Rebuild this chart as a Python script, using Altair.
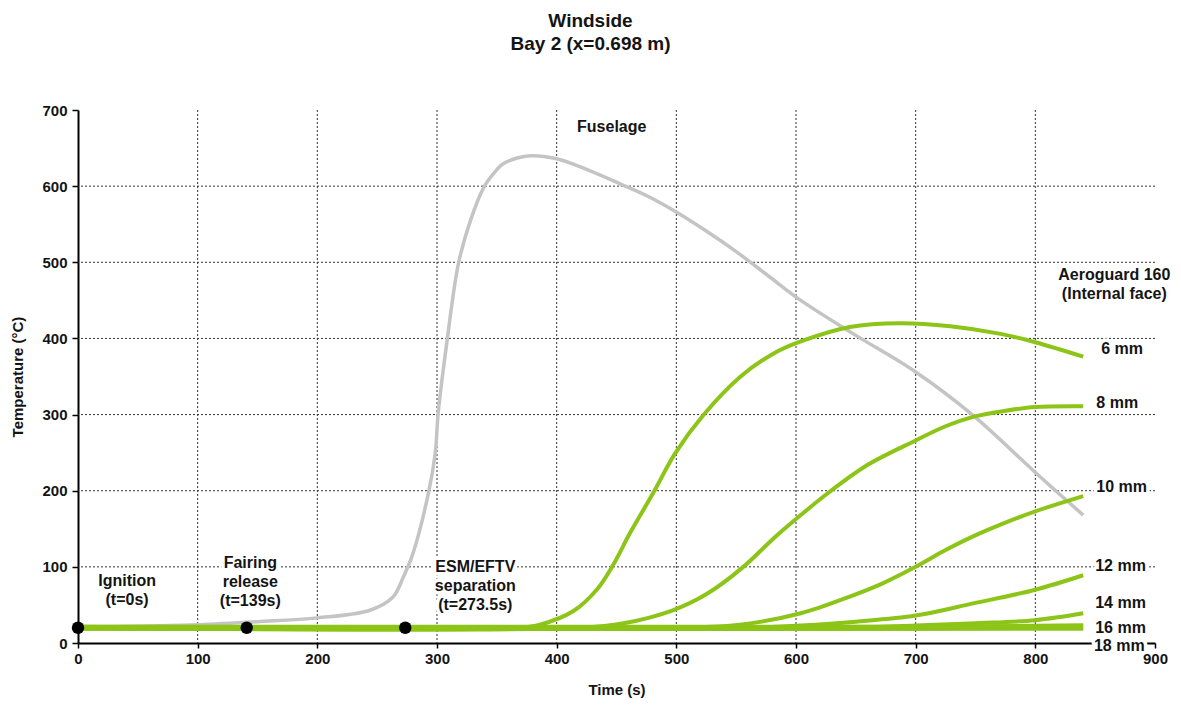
import altair as alt
import pandas as pd

# ---- data ----
fus_t = [0, 50, 100, 150, 200, 244, 263, 272, 280, 293, 298.5, 301, 308.5, 318, 328, 339, 347, 355, 367, 378, 400, 425, 453, 477, 501, 525, 550, 577, 604, 650, 700, 748, 800, 840]
fus_T = [20, 22, 24, 28, 33, 43, 60, 87, 118, 198, 249, 302, 398, 499, 555, 598, 616, 629, 637, 640, 636, 622, 603, 586, 565, 541, 514, 482, 450, 404, 356, 299, 224, 168]

mm6_t = [0, 370, 386, 414, 434, 447, 461.5, 481, 499, 523, 553, 581, 604, 645, 687, 729, 771, 800, 840]
mm6_T = [20, 20, 24, 42, 71, 102, 145, 198, 249, 300, 349, 380, 396, 415, 420, 416, 406, 395, 376]

mm8_t = [0, 420, 456, 497, 526, 556, 581, 604, 626, 660, 700, 724, 748, 775, 800, 840]
mm8_T = [20, 20, 26, 43, 65, 100, 137, 168, 196, 234, 266, 284, 297, 305, 310, 311]

mm10_t = [0, 500, 553, 604, 645, 672, 700, 725, 748, 775, 800, 840]
mm10_T = [20, 20, 24, 39, 61, 78, 100, 122, 140, 158, 173, 193]

mm12_t = [0, 560, 604, 650, 700, 748, 800, 840]
mm12_T = [20, 20, 23, 28, 36, 52, 70, 89]

mm14_t = [0, 640, 700, 750, 800, 840]
mm14_T = [20, 20, 23, 26, 30, 39]

mm16_t = [0, 700, 840]
mm16_T = [20, 20, 22]

mm18_t = [0, 840]
mm18_T = [20, 20]

event_t = [0, 141, 273.5]
event_T = [20, 20, 20]

x_ticks = [0, 100, 200, 300, 400, 500, 600, 700, 800, 900]
y_ticks = [0, 100, 200, 300, 400, 500, 600, 700]
x_grid = [100, 200, 300, 400, 500, 600, 700, 800]
y_grid = [100, 200, 300, 400, 500, 600]

mm_labels = ["6 mm", "8 mm", "10 mm", "12 mm", "14 mm", "16 mm", "18 mm"]
mm_label_t = [855, 851, 851, 850, 850, 850, 849]
mm_label_T = [386, 315, 205, 101, 52, 20, -4]

# multi-line notes: anchor = first line
notes = ["Ignition\n(t=0s)", "Fairing\nrelease\n(t=139s)", "ESM/EFTV\nseparation\n(t=273.5s)",
         "Fuselage", "Aeroguard 160\n(Internal face)"]
note_t = [41, 144, 332, 446, 866]
note_T = [81.5, 105, 100, 678, 483]

# ---- build tables ----
green_series = [("6 mm", mm6_t, mm6_T, 4), ("8 mm", mm8_t, mm8_T, 4), ("10 mm", mm10_t, mm10_T, 4),
                ("12 mm", mm12_t, mm12_T, 4), ("14 mm", mm14_t, mm14_T, 4), ("16 mm", mm16_t, mm16_T, 6),
                ("18 mm", mm18_t, mm18_T, 6)]
rows = []
for name, ts, Ts, w in green_series:
    for t, T in zip(ts, Ts):
        rows.append({"series": name, "t": t, "T": T, "w": w})
green_df = pd.DataFrame(rows)
fus_df = pd.DataFrame({"t": fus_t, "T": fus_T})
ev_df = pd.DataFrame({"t": event_t, "T": event_T})
mm_df = pd.DataFrame({"label": mm_labels, "t": mm_label_t, "T": mm_label_T})
note_df = pd.DataFrame({"label": notes, "t": note_t, "T": note_T})
xg_df = pd.DataFrame({"v": x_grid})
yg_df = pd.DataFrame({"v": y_grid})

FONT = "Liberation Sans"
GREEN = "#8cc417"
GRAY = "#c4c4c4"
TXT = "#141414"

xs = alt.Scale(domain=[0, 900], nice=False, zero=False)
ys = alt.Scale(domain=[0, 700], nice=False, zero=False)

x_axis = alt.Axis(values=x_ticks, title="Time (s)", grid=False, format="d", labelFlush=False,
                  labelFontSize=15, labelFontWeight="bold", labelFont=FONT, labelColor=TXT,
                  titleFontSize=15, titleFontWeight="bold", titleFont=FONT, titleColor=TXT,
                  titlePadding=16, labelPadding=3, tickSize=5, tickColor="black",
                  domainColor="black", domainWidth=2, tickWidth=1.5)
y_axis = alt.Axis(values=y_ticks, title="Temperature (°C)", grid=False, format="d", labelFlush=False,
                  labelFontSize=15, labelFontWeight="bold", labelFont=FONT, labelColor=TXT,
                  titleFontSize=15, titleFontWeight="bold", titleFont=FONT, titleColor=TXT,
                  titlePadding=16, labelPadding=5, tickSize=6, tickColor="black",
                  domainColor="black", domainWidth=2, tickWidth=1.5)

vgrid = alt.Chart(xg_df).mark_rule(color="#333", strokeDash=[2, 2], strokeWidth=1).encode(
    x=alt.X("v:Q", scale=xs, axis=x_axis))
hgrid = alt.Chart(yg_df).mark_rule(color="#333", strokeDash=[2, 2], strokeWidth=1).encode(
    y=alt.Y("v:Q", scale=ys, axis=y_axis))

fus = alt.Chart(fus_df).mark_line(color=GRAY, strokeWidth=3.5, interpolate="catmull-rom").encode(
    x=alt.X("t:Q", scale=xs), y=alt.Y("T:Q", scale=ys))

green = alt.Chart(green_df).mark_line(color=GREEN, interpolate="catmull-rom").encode(
    x=alt.X("t:Q", scale=xs), y=alt.Y("T:Q", scale=ys), detail="series:N",
    strokeWidth=alt.StrokeWidth("w:Q", scale=None, legend=None))

dots = alt.Chart(ev_df).mark_circle(color="black", opacity=1, size=155).encode(
    x=alt.X("t:Q", scale=xs), y=alt.Y("T:Q", scale=ys))

def text_layers(df, align, line_height=None):
    kw = dict(align=align, baseline="middle", font=FONT, fontSize=16, fontWeight="bold")
    if line_height:
        kw.update(lineBreak="\n", lineHeight=line_height)
    enc = dict(x=alt.X("t:Q", scale=xs), y=alt.Y("T:Q", scale=ys), text="label:N")
    halo = alt.Chart(df).mark_text(color="white", stroke="white", strokeWidth=7,
                                   strokeJoin="round", **kw).encode(**enc)
    fg = alt.Chart(df).mark_text(color=TXT, **kw).encode(**enc)
    return [halo, fg]

layers = [vgrid, hgrid, fus, green, dots]
layers += text_layers(mm_df, "left")
layers += text_layers(note_df, "center", 19)

chart = alt.layer(*layers).properties(
    width=1077, height=533,
    autosize=alt.AutoSizeParams(type="none"),
    padding={"left": 70, "top": 102, "right": 18, "bottom": 56},
    title=alt.TitleParams(text=["Windside", "Bay 2 (x=0.698 m)"], font=FONT, fontSize=19,
                          fontWeight="bold", color=TXT, anchor="middle", dx=-26, offset=49,
                          lineHeight=23),
).configure_view(stroke=None)

chart.save("out.html", embed_options={"renderer": "svg", "actions": False})
